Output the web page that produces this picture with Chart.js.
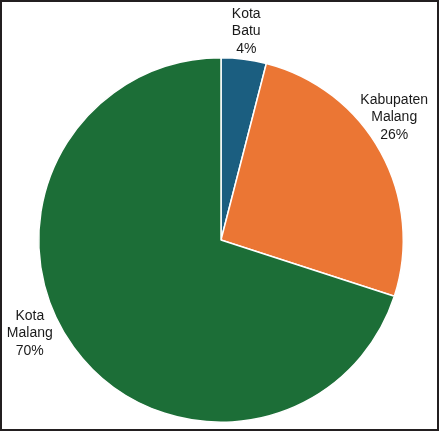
<!DOCTYPE html>
<html>
<head>
<meta charset="utf-8">
<script src="https://cdn.jsdelivr.net/npm/chart.js@4/dist/chart.umd.min.js"></script>
<style>
    html, body { margin: 0; padding: 0; background: #fff; }
    canvas { display: block; }
</style>
</head>
<body>
<canvas id="pieChart" width="439" height="431"></canvas>
<script>
// chart data
const regions = [['Kota', 'Batu'], ['Kabupaten', 'Malang'], ['Kota', 'Malang']];
const shares = [4, 26, 70];
const sliceColors = ['#1b5e80', '#eb7634', '#1c6e37'];

// where each label sits relative to its slice (angle nudge in degrees, gap beyond the rim)
const labelNudge = [-0.3, -6.5, 10];
const labelGap = [28, 30, 30.5];

const labelPlugin = {
    id: 'outsideLabels',
    afterDatasetsDraw(chart) {
        const ctx = chart.ctx;
        const meta = chart.getDatasetMeta(0);
        ctx.save();
        ctx.font = '14px "Liberation Sans", Arial, sans-serif';
        ctx.fillStyle = '#1a1a1a';
        ctx.textAlign = 'center';
        ctx.textBaseline = 'middle';
        meta.data.forEach((arc, i) => {
            const mid = (arc.startAngle + arc.endAngle) / 2 + labelNudge[i] * Math.PI / 180;
            const r = arc.outerRadius + labelGap[i];
            const x = arc.x + Math.cos(mid) * r;
            const y = arc.y + Math.sin(mid) * r;
            const lines = regions[i].concat([shares[i] + '%']);
            lines.forEach((line, j) => {
                ctx.fillText(line, x, y + (j - 1) * 17.5);
            });
        });
        ctx.restore();
    },
    afterDraw(chart) {
        const ctx = chart.ctx;
        ctx.save();
        ctx.strokeStyle = '#231f20';
        ctx.lineWidth = 2;
        ctx.strokeRect(1, 1, chart.width - 2, chart.height - 2);
        ctx.restore();
    }
};

new Chart(document.getElementById('pieChart').getContext('2d'), {
    type: 'pie',
    data: {
        labels: regions.map(r => r.join(' ')),
        datasets: [{
            data: shares,
            backgroundColor: sliceColors,
            borderColor: '#ffffff',
            borderWidth: 1.5
        }]
    },
    options: {
        responsive: false,
        animation: false,
        layout: {
            padding: { left: 38, right: 35, top: 57, bottom: 8 }
        },
        plugins: {
            legend: { display: false },
            tooltip: { enabled: false }
        }
    },
    plugins: [labelPlugin]
});
</script>
</body>
</html>
